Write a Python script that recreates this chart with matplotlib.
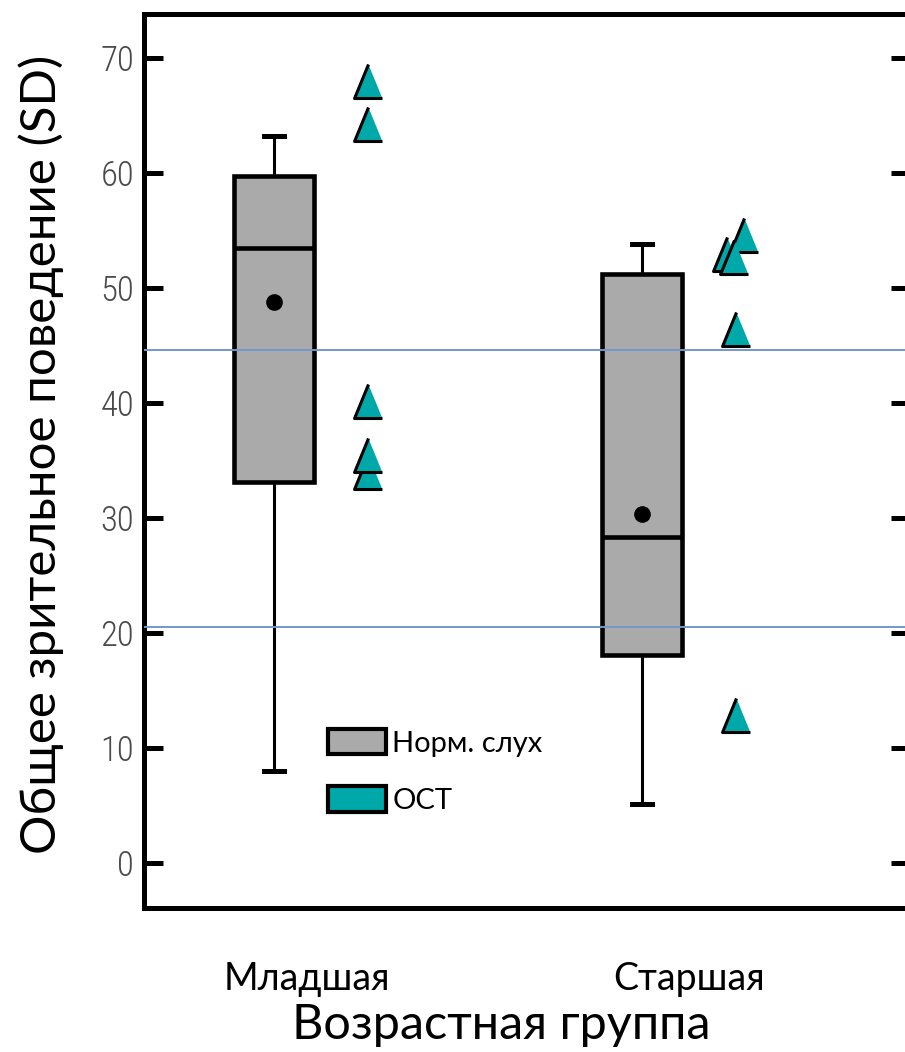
import matplotlib.pyplot as plt
from matplotlib import font_manager as fm
from matplotlib.patches import Patch

# age groups and box statistics for normal hearing children
groups = ['Младшая', 'Старшая']
q1 = [33.1, 18.1]
medians = [53.5, 28.3]
q3 = [59.7, 51.2]
whisker_low = [8.0, 5.1]
whisker_high = [63.2, 53.8]
means = [48.8, 30.3]

# individual children with cochlear implants (ОСТ)
oct_young = [68.0, 64.2, 40.2, 34.0, 35.5]
oct_old = [54.6, 52.9, 52.7, 46.4, 12.9]
oct_old_jitter = [0.024, -0.024, -0.003, 0.0, 0.0]

# normal range borders
ref_lines = [44.6, 20.5]

yticks = [0, 10, 20, 30, 40, 50, 60, 70]

gray = '#aaaaaa'
teal = '#00a9a9'
text_font = ['Lato', 'Open Sans', 'DejaVu Sans']


def narrow_font():
    # pick a condensed sans face for the tick numbers if one is installed
    prefs = ['Liberation Sans Narrow', 'Arial Narrow', 'Roboto Condensed',
             'Open Sans Condensed', 'Noto Sans', 'DejaVu Sans']
    cands = []
    for f in fm.fontManager.ttflist:
        if f.style != 'normal' or f.weight not in (300, 400, 'light', 'normal', 'regular', 'book'):
            continue
        if 'Narrow' in f.name or 'Condensed' in f.name or \
                f.stretch in ('condensed', 'semi-condensed'):
            cands.append(f)
    cands.sort(key=lambda f: 0 if f.weight in (300, 'light') else 1)
    for p in prefs:
        for f in cands:
            if f.name.startswith(p):
                return fm.FontProperties(fname=f.fname, size=25)
    return fm.FontProperties(family='Liberation Sans', size=23)


fig = plt.figure(figsize=(9.05, 10.52), dpi=100)
ax = fig.add_axes([0.159, 0.1369, 0.846, 0.8498])

stats = []
for i in range(len(groups)):
    stats.append({'q1': q1[i], 'med': medians[i], 'q3': q3[i],
                  'whislo': whisker_low[i], 'whishi': whisker_high[i],
                  'mean': means[i], 'fliers': []})

ax.bxp(stats, positions=[1, 2], widths=0.217, capwidths=0.055,
       showmeans=True, patch_artist=True,
       boxprops=dict(facecolor=gray, edgecolor='black', linewidth=3.3),
       medianprops=dict(color='black', linewidth=3.3),
       whiskerprops=dict(color='black', linewidth=2.2),
       capprops=dict(color='black', linewidth=3.6),
       meanprops=dict(marker='o', markerfacecolor='black',
                      markeredgecolor='black', markersize=11))

tri = [(0, 1), (-0.82, -1), (0.82, -1)]
ax.plot([1.255] * len(oct_young), oct_young, linestyle='none', marker=tri,
        markersize=24.5, markerfacecolor=teal, markeredgecolor='black',
        markeredgewidth=2.2, zorder=5)
for j, v in zip(oct_old_jitter, oct_old):
    ax.plot(2.255 + j, v, linestyle='none', marker=tri, markersize=24.5,
            markerfacecolor=teal, markeredgecolor='black',
            markeredgewidth=2.2, zorder=5)

for y in ref_lines:
    ax.axhline(y, color='#7398cc', linewidth=1.4, zorder=6)

ax.set_xlim(0.647, 2.728)
ax.set_ylim(-3.9, 73.8)

for side in ['left', 'right', 'top', 'bottom']:
    ax.spines[side].set_linewidth(3.6)

ax.set_yticks(yticks)
ax.set_yticklabels([str(t) for t in yticks], fontproperties=narrow_font(),
                   color='#4a4a4a')
ax.tick_params(axis='y', direction='in', length=14, width=3.6,
               right=True, pad=7)

ax.set_xticks([1.09, 2.13])
ax.set_xticklabels(groups, family=text_font, fontsize=27)
ax.tick_params(axis='x', length=0, pad=38)

ax.set_xlabel('Возрастная группа', family=text_font, fontsize=35)
ax.xaxis.set_label_coords(0.467, -0.106)
ax.set_ylabel('Общее зрительное поведение (SD)', family=text_font,
              fontsize=35.5)
ax.yaxis.set_label_coords(-0.104, 0.507)

handles = [Patch(facecolor=gray, edgecolor='black', linewidth=3),
           Patch(facecolor=teal, edgecolor='black', linewidth=3)]
ax.legend(handles, ['Норм. слух', 'ОСТ'], loc='upper left',
          bbox_to_anchor=(328 / 905, 1 - 729 / 1052),
          bbox_transform=fig.transFigure, frameon=False,
          prop={'family': text_font, 'size': 21},
          handlelength=2.0, handleheight=0.96, handletextpad=0.2,
          labelspacing=1.02, borderpad=0, borderaxespad=0)

fig.savefig('out.png', dpi=100)
